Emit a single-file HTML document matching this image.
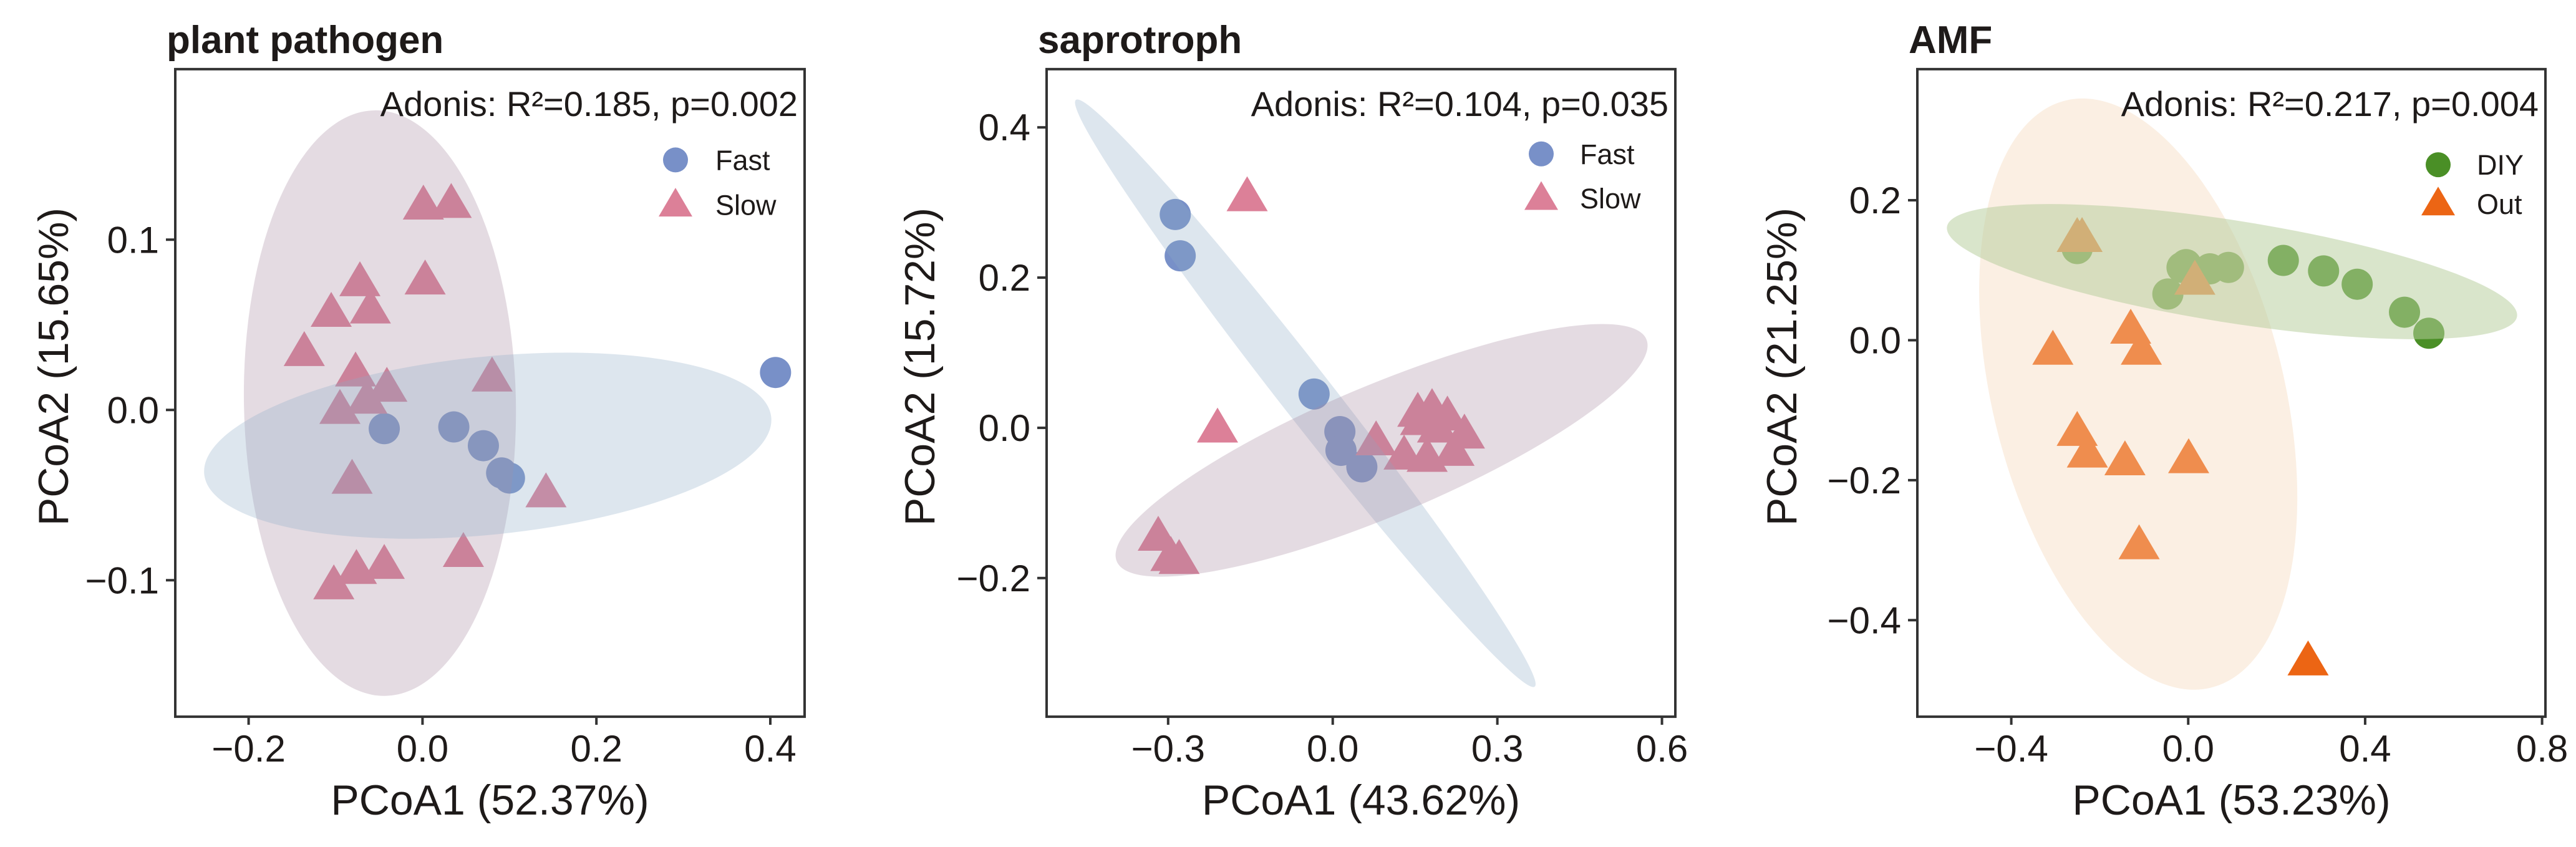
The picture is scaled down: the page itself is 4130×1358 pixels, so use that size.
<!DOCTYPE html>
<html><head><meta charset="utf-8"><style>
html,body{margin:0;padding:0;background:#fff;}
svg{display:block;}
text{font-family:"Liberation Sans",Arial,sans-serif;fill:#1e1a19;}
</style></head><body>
<svg id="fig" width="4130" height="1358" viewBox="0 0 4130 1358" xmlns="http://www.w3.org/2000/svg"></svg>
<script>
// ---- Panel 1: plant pathogen ----
const p1FastX=[0.406,-0.044,0.036,0.070,0.091,0.100];
const p1FastY=[0.022,-0.011,-0.010,-0.021,-0.037,-0.040];
const p1SlowX=[0.001,0.033,-0.072,0.003,-0.105,-0.060,-0.136,-0.077,-0.041,-0.064,-0.095,0.080,-0.081,0.142,0.047,-0.044,-0.076,-0.102];
const p1SlowY=[0.120,0.121,0.075,0.076,0.057,0.059,0.034,0.022,0.013,0.006,0.000,0.019,-0.041,-0.049,-0.084,-0.091,-0.094,-0.103];
const p1XTicks=[-0.2,0.0,0.2,0.4];
const p1XLabels=["\u22120.2","0.0","0.2","0.4"];
const p1YTicks=[0.1,0.0,-0.1];
const p1YLabels=["0.1","0.0","\u22120.1"];
// ---- Panel 2: saprotroph ----
const p2FastX=[-0.287,-0.278,-0.034,0.013,0.015,0.053];
const p2FastY=[0.284,0.229,0.045,-0.005,-0.030,-0.052];
const p2SlowX=[-0.156,-0.210,-0.318,-0.295,-0.280,0.155,0.181,0.209,0.240,0.079,0.130,0.172,0.221,0.160,0.191];
const p2SlowY=[0.307,-0.001,-0.145,-0.172,-0.176,0.020,0.025,0.015,-0.009,-0.018,-0.037,-0.040,-0.032,0.009,-0.001];
const p2XTicks=[-0.3,0.0,0.3,0.6];
const p2XLabels=["\u22120.3","0.0","0.3","0.6"];
const p2YTicks=[0.4,0.2,0.0,-0.2];
const p2YLabels=["0.4","0.2","0.0","\u22120.2"];
// ---- Panel 3: AMF ----
const p3DiyX=[-0.251,-0.046,-0.014,-0.005,0.049,0.091,0.215,0.306,0.382,0.489,0.544];
const p3DiyY=[0.131,0.066,0.104,0.108,0.102,0.104,0.114,0.099,0.080,0.040,0.010];
const p3OutX=[-0.251,-0.240,0.015,-0.130,-0.306,-0.106,-0.251,-0.228,-0.143,0.001,-0.111,0.271];
const p3OutY=[0.146,0.146,0.085,0.015,-0.015,-0.015,-0.131,-0.162,-0.173,-0.170,-0.293,-0.459];
const p3XTicks=[-0.4,0.0,0.4,0.8];
const p3XLabels=["\u22120.4","0.0","0.4","0.8"];
const p3YTicks=[0.2,0.0,-0.2,-0.4];
const p3YLabels=["0.2","0.0","\u22120.2","\u22120.4"];

const NS="http://www.w3.org/2000/svg";
const svg=document.getElementById('fig');
const K=0.964;
function mk(tag,attrs,parent){const e=document.createElementNS(NS,tag);for(const k in attrs)e.setAttribute(k,attrs[k]);(parent||svg).appendChild(e);return e;}

const panels=[
 {name:'plant-pathogen',title:'plant pathogen',L:281,R:1290,T:115,B:1192,
  x0v:-0.2,x0p:398.6,x1v:0.4,x1p:1235,y0v:0.1,y0p:398.6,y1v:-0.1,y1p:965,
  xt:p1XTicks,xl:p1XLabels,yt:p1YTicks,yl:p1YLabels,
  xTitle:'PCoA1 (52.37%)',yTitle:'PCoA2 (15.65%)',adonis:'Adonis: R\u00b2=0.185, p=0.002',
  yTitleX:85,yTitleY:610,
  g:[{label:'Fast',shape:'c',color:'#7890c8',xs:p1FastX,ys:p1FastY},{label:'Slow',shape:'t',color:'#dc8098',xs:p1SlowX,ys:p1SlowY}],
  ell:[{cx:-0.049,cy:0.004,a:487,b:218,ang:89,fill:'rgb(165,135,158)',op:0.3},
       {cx:0.075,cy:-0.021,a:457,b:148,ang:-6,fill:'rgb(142,172,198)',op:0.3}],
  leg:{x:1083,y1:266,y2:341,tx:1147}},
 {name:'saprotroph',title:'saprotroph',L:1678,R:2686,T:115,B:1192,
  x0v:-0.3,x0p:1380+549/1.114,x1v:0.6,x1p:1380+1431/1.114,y0v:0.4,y0p:236/1.114,y1v:-0.2,y1p:1071/1.114,
  xt:p2XTicks,xl:p2XLabels,yt:p2YTicks,yl:p2YLabels,
  xTitle:'PCoA1 (43.62%)',yTitle:'PCoA2 (15.72%)',adonis:'Adonis: R\u00b2=0.104, p=0.035',
  yTitleX:1474,yTitleY:610,
  g:[{label:'Fast',shape:'c',color:'#7890c8',xs:p2FastX,ys:p2FastY},{label:'Slow',shape:'t',color:'#dc8098',xs:p2SlowX,ys:p2SlowY}],
  ell:[{cx:-0.05,cy:0.046,a:611,b:42,ang:53,fill:'rgb(142,172,198)',op:0.3},
       {cx:0.089,cy:-0.030,a:463,b:108,ang:-23.6,fill:'rgb(165,135,158)',op:0.3}],
  leg:{x:2471,y1:256,y2:330,tx:2533}},
 {name:'amf',title:'AMF',L:3074,R:4081,T:115,B:1192,
  x0v:-0.4,x0p:2730+551/1.114,x1v:0.8,x1p:2730+1499/1.114,y0v:0.2,y0p:371/1.114,y1v:-0.4,y1p:1149/1.114,
  xt:p3XTicks,xl:p3XLabels,yt:p3YTicks,yl:p3YLabels,
  xTitle:'PCoA1 (53.23%)',yTitle:'PCoA2 (21.25%)',adonis:'Adonis: R\u00b2=0.217, p=0.004',
  yTitleX:2856,yTitleY:610,
  g:[{label:'DIY',shape:'c',color:'#4a8f26',xs:p3DiyX,ys:p3DiyY},{label:'Out',shape:'t',color:'#ec6514',xs:p3OutX,ys:p3OutY}],
  ell:[{cx:-0.113,cy:-0.077,a:502,b:234,ang:76.8,fill:'rgb(244,212,179)',op:0.37},
       {cx:0.099,cy:0.098,a:463,b:85,ang:9.3,fill:'rgb(183,206,157)',op:0.53}],
  leg:{x:3909,y1:274,y2:339,tx:3971}}
];

function tri(g,cx,cy,w,h,color,name){
  const p=mk('polygon',{points:`${cx},${cy-h*0.6} ${cx-w/2},${cy+h*0.4} ${cx+w/2},${cy+h*0.4}`,fill:color},g);
  
  
  return p;
}

panels.forEach(P=>{
  const T=P.T*K,B=P.B*K;
  const g=mk('g',{});
  
  
  const sx=v=>P.x0p+(v-P.x0v)*(P.x1p-P.x0p)/(P.x1v-P.x0v);
  const sy=v=>K*(P.y0p+(v-P.y0v)*(P.y1p-P.y0p)/(P.y1v-P.y0v));
  const clipId='clip-'+P.name;
  const cp=mk('clipPath',{id:clipId},g);
  mk('rect',{x:P.L,y:T,width:P.R-P.L,height:B-T},cp);
  const plot=mk('g',{'clip-path':`url(#${clipId})`},g);
  
  
  P.g.forEach(G=>{
    G.xs.forEach((xv,i)=>{
      const cx=sx(xv),cy=sy(G.ys[i]);
      if(G.shape==='c'){
        const c=mk('circle',{cx:cx,cy:cy,r:25,fill:G.color},plot);
        
        
      } else {
        tri(plot,cx,cy,66,56,G.color,G.label.toLowerCase()+'-point');
      }
    });
  });
  P.ell.forEach((E,i)=>{
    const e=mk('ellipse',{cx:0,cy:0,rx:E.a,ry:E.b,fill:E.fill,'fill-opacity':E.op,
      transform:`translate(${sx(E.cx)},${sy(E.cy)}) scale(1,${K}) rotate(${E.ang})`},plot);
    
    
  });
  const fr=mk('rect',{x:P.L,y:T,width:P.R-P.L,height:B-T,fill:'none',stroke:'#333','stroke-width':4},g);
  
  
  P.xt.forEach((v,i)=>{
    const x=sx(v);
    const t=mk('line',{x1:x,x2:x,y1:B,y2:B+13,stroke:'#333','stroke-width':4},g);
    
    
    const l=mk('text',{x:x,y:1221,'font-size':60,'text-anchor':'middle'},g);
    l.textContent=P.xl[i];
    
    
  });
  P.yt.forEach((v,i)=>{
    const y=sy(v);
    const t=mk('line',{x1:P.L-15,x2:P.L,y1:y,y2:y,stroke:'#333','stroke-width':4},g);
    
    
    const l=mk('text',{x:P.L-26,y:y+21,'font-size':60,'text-anchor':'end'},g);
    l.textContent=P.yl[i];
    
    
  });
  const xt=mk('text',{x:(P.L+P.R)/2,y:1306,'font-size':68,'text-anchor':'middle'},g);
  xt.textContent=P.xTitle;
  
  
  const yt=mk('text',{x:0,y:0,'font-size':68,'text-anchor':'middle',
    transform:`translate(${P.yTitleX+24},${P.yTitleY*K}) rotate(-90)`},g);
  yt.textContent=P.yTitle;
  
  
  const tt=mk('text',{x:P.L-14,y:85,'font-size':62,'font-weight':'bold',fill:'#000'},g);
  tt.textContent=P.title;
  
  
  const ad=mk('text',{x:P.R-11,y:193*K,'font-size':56,'text-anchor':'end',fill:'#000'},g);
  ad.textContent=P.adonis;
  
  
  const lg=mk('g',{},g);
  
  
  const lc=mk('circle',{cx:P.leg.x,cy:P.leg.y1*K,r:20,fill:P.g[0].color},lg);
  
  
  tri(lg,P.leg.x,P.leg.y2*K,54,46,P.g[1].color,'legend-key-'+P.g[1].label.toLowerCase());
  [P.leg.y1,P.leg.y2].forEach((y,i)=>{
    const t=mk('text',{x:P.leg.tx,y:y*K+16,'font-size':45,fill:'#000'},lg);
    t.textContent=P.g[i].label;
    
    
  });
});
</script>
</body></html>
